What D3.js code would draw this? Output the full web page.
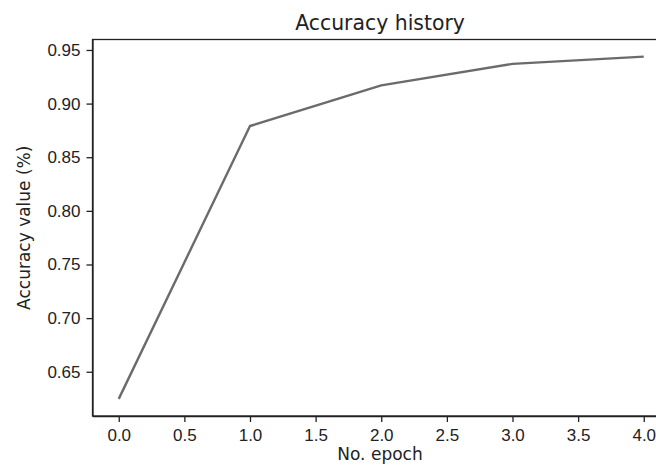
<!DOCTYPE html>
<html>
<head>
<meta charset="utf-8">
<script src="https://cdn.jsdelivr.net/npm/d3@7"></script>
<style>
    body { margin: 0; background: #fff; }
    svg { display: block; font-family: "DejaVu Sans", sans-serif; }
    .axis text { font-size: 17px; fill: #222; }
    .axis path, .axis line { stroke: #222; stroke-width: 1.3; }
</style>
</head>
<body>
<div id="chart"></div>
<script>
// accuracy per epoch
const epochs = [0, 1, 2, 3, 4];
const accuracy = [0.6247, 0.8791, 0.9170, 0.9370, 0.9438];
const xTicks = [0, 0.5, 1, 1.5, 2, 2.5, 3, 3.5, 4];
const yTicks = [0.65, 0.70, 0.75, 0.80, 0.85, 0.90, 0.95];

const W = 656, H = 470;
const margin = {top: 39.5, left: 92.5, bottom: 54};
const plotW = 577.5;               // right spine falls outside the picture
const plotH = H - margin.top - margin.bottom;

const svg = d3.select("#chart").append("svg")
    .attr("width", W)
    .attr("height", H);

const g = svg.append("g")
    .attr("transform", `translate(${margin.left},${margin.top})`);

// matplotlib style 5% padding on both axes
const xPad = 0.05 * (d3.max(epochs) - d3.min(epochs));
const yPad = 0.05 * (d3.max(accuracy) - d3.min(accuracy));

const x = d3.scaleLinear()
    .domain([d3.min(epochs) - xPad, d3.max(epochs) + xPad])
    .range([0, plotW]);

const y = d3.scaleLinear()
    .domain([d3.min(accuracy) - yPad, d3.max(accuracy) + yPad])
    .range([plotH, 0]);

// axes
g.append("g")
    .attr("class", "axis x-axis")
    .attr("transform", `translate(0,${plotH})`)
    .call(d3.axisBottom(x).tickValues(xTicks).tickFormat(d3.format(".1f"))
        .tickSize(6).tickPadding(7).tickSizeOuter(0));

g.append("g")
    .attr("class", "axis y-axis")
    .call(d3.axisLeft(y).tickValues(yTicks).tickFormat(d3.format(".2f"))
        .tickSize(6).tickPadding(6).tickSizeOuter(0));

// frame (top and right spines)
g.append("rect")
    .attr("width", plotW)
    .attr("height", plotH)
    .attr("fill", "none")
    .attr("stroke", "#222")
    .attr("stroke-width", 1.3);

// the line
const line = d3.line()
    .x((d, i) => x(epochs[i]))
    .y(d => y(d));

g.append("path")
    .datum(accuracy)
    .attr("fill", "none")
    .attr("stroke", "#6b6b6b")
    .attr("stroke-width", 2.4)
    .attr("stroke-linejoin", "round")
    .attr("d", line);

// title and labels
svg.append("text")
    .attr("x", 380)
    .attr("y", 30)
    .attr("text-anchor", "middle")
    .style("font-size", "20.4px")
    .style("fill", "#222")
    .text("Accuracy history");

svg.append("text")
    .attr("x", 380)
    .attr("y", 460)
    .attr("text-anchor", "middle")
    .style("font-size", "17px")
    .style("fill", "#222")
    .text("No. epoch");

svg.append("text")
    .attr("transform", `translate(30,${margin.top + plotH / 2}) rotate(-90)`)
    .attr("text-anchor", "middle")
    .style("font-size", "17px")
    .style("fill", "#222")
    .text("Accuracy value (%)");
</script>
</body>
</html>
